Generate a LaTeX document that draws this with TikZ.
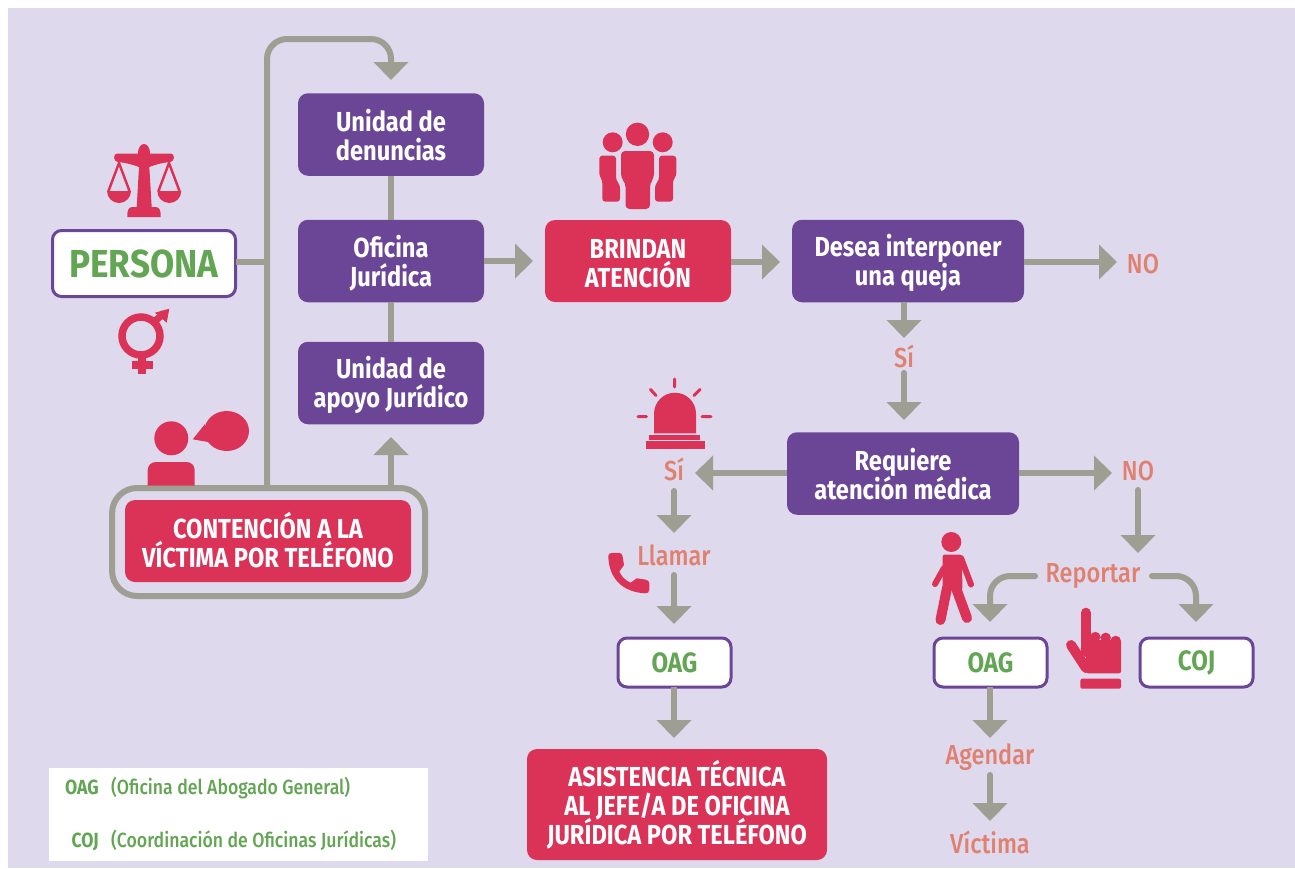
\documentclass[tikz,border=0pt]{standalone}
\usepackage{fontspec}
\setmainfont{Fira Sans}[FakeStretch=0.86]
\newfontfamily\labfont{Fira Sans Medium}[FakeStretch=0.855]
\newfontfamily\legfont{Fira Sans Medium}[FakeStretch=0.862]
\newfontfamily\perfont{Fira Sans}[FakeStretch=0.90]
\usetikzlibrary{arrows.meta}
\definecolor{lav}{HTML}{DED9ED}
\definecolor{pur}{HTML}{6B4696}
\definecolor{rd}{HTML}{DB3358}
\definecolor{gy}{HTML}{9E9E92}
\definecolor{grn}{HTML}{62A552}
\definecolor{sal}{HTML}{E0806F}
\newcommand\tst[1][4]{\rule[-#1pt]{0pt}{28pt}\ignorespaces}
\tikzset{
 every node/.append style={execute at begin node={\lineskiplimit=-50pt\relax}},
 boxbase/.style={inner sep=0pt,outer sep=0pt,rounded corners=10pt,align=center,text=white,font=\bfseries\fontsize{27.5}{29}\selectfont},
 purbox/.style={boxbase,fill=pur,minimum width=#1,minimum height=82.5pt},
 redbox/.style={boxbase,fill=rd,minimum width=#1,minimum height=82pt},
 whitebox/.style={inner sep=0pt,outer sep=0pt,rounded corners=9pt,fill=white,draw=pur,line width=3pt,text=grn,align=center,minimum width=113pt,minimum height=49pt,font=\bfseries\fontsize{28}{29}\selectfont},
 lab/.style={inner sep=0pt,anchor=base,text=sal,font=\labfont\fontsize{27.5}{29}\selectfont},
 conn/.style={draw=gy,line width=6pt},
 arr/.style={conn,-{Triangle[length=18pt,width=34pt]}},
 ico/.style={fill=rd,draw=none},
 icl/.style={draw=rd,line cap=round,line join=round},
 leg/.style={inner sep=0pt,anchor=base west,text=grn,font=\legfont\fontsize{20.5}{22}\selectfont},
 legb/.style={inner sep=0pt,anchor=base east,text=grn,font=\bfseries\fontsize{20.5}{22}\selectfont}
}
\begin{document}
\begin{tikzpicture}[x=1pt,y=-1pt]
\useasboundingbox (0,0) rectangle (1295,868);
\fill[lav] (8,8) rectangle (1295,868);
\fill[white] (49,768) rectangle (428,861);
% nodes
\node[whitebox,minimum width=183pt,minimum height=66pt,font=\perfont\bfseries\fontsize{39}{40}\selectfont] (per) at (144,263.5) {PERSONA};
\node[purbox=186pt] (den) at (391,134.5) {\tst[3] Unidad de\\denuncias\tst[3]};
\node[purbox=186pt] (ofi) at (391,261) {\tst[2] Oficina\\Jurídica\tst[2]};
\node[purbox=186pt] (apo) at (391,383) {\tst[1] Unidad de\\apoyo Jurídico\tst[1]};
\node[redbox=186pt] (bri) at (638,261) {\tst[2] BRINDAN\\ATENCIÓN\tst[2]};
\node[purbox=232pt] (des) at (908,261) {\tst[2] Desea interponer\\una queja\tst[2]};
\node[purbox=232pt] (req) at (903,473.5) {\tst[3] Requiere\\atención médica\tst[3]};
\node[inner sep=0pt,outer sep=0pt,rounded corners=25pt,draw=gy,line width=6pt,minimum width=313pt,minimum height=108pt] (cont) at (268.6,542) {};
\node[redbox=286pt] (conr) at (268,541) {\tst[3] CONTENCIÓN A LA\\VÍCTIMA POR TELÉFONO\tst[3]};
\node[whitebox] (oag1) at (674.5,662.5) {OAG};
\node[whitebox] (oag2) at (990.5,662.5) {OAG};
\node[whitebox] (coj) at (1196.5,662.5) {COJ};
\node[redbox=300pt,minimum height=111pt] (asi) at (677,804.5) {\tst[4.5] ASISTENCIA TÉCNICA\\AL JEFE/A DE OFICINA\\JURÍDICA POR TELÉFONO\tst[4.5]};
% labels
\node[lab] (no1) at (1143,273) {NO};
\node[lab] (si1) at (904,367) {Sí};
\node[lab] (si2) at (674,480) {Sí};
\node[lab] (no2) at (1138,480) {NO};
\node[lab] (lla) at (674,565) {Llamar};
\node[lab] (rep) at (1093,582) {Reportar};
\node[lab] (age) at (990,764) {Agendar};
\node[lab] (vic) at (990,853) {Víctima};
% legend
\node[legb] (l1) at (99,794) {OAG};
\node[leg] (l2) at (111,794) {(Oficina del Abogado General)};
\node[legb] (l3) at (99,847) {COJ};
\node[leg] (l4) at (111,847) {(Coordinación de Oficinas Jurídicas)};
% connector ends
\coordinate (spB) at (267,488);
\coordinate (spP) at (267,262);
\coordinate (spT) at (267,39);
\coordinate (topT) at (391,80);
\coordinate (apB) at (391,488);
\coordinate (apT) at (391,437);
\coordinate (t1) at (533,261);
\coordinate (t2) at (780,262);
\coordinate (t3) at (1117,262);
\coordinate (t4) at (904,338);
\coordinate (s5) at (904,373);
\coordinate (t5) at (904,420);
\coordinate (t6) at (695,473);
\coordinate (t7) at (1112,473);
\coordinate (s8) at (674,491);
\coordinate (t8) at (674,533);
\coordinate (s9) at (674,575);
\coordinate (t9) at (674,624);
\coordinate (t10) at (674,738);
\coordinate (s11) at (1138,490);
\coordinate (t11) at (1138,553);
\coordinate (s12) at (1035,576);
\coordinate (t12) at (990,622);
\coordinate (s13) at (1152,576);
\coordinate (t13) at (1196,622);
\coordinate (t14) at (990,738);
\coordinate (s15) at (990,775);
\coordinate (t15) at (990,821);
% connectors
\draw[conn] (per.east |- spP) -- (spP);
\draw[arr,rounded corners=20pt] (spB) -- (spT) -- (topT |- spT) -- (topT);
\draw[conn] (den.south) -- (ofi.north);
\draw[conn] (ofi.south) -- (apo.north);
\draw[arr] (apB) -- (apT);
\draw[arr] (ofi.east) -- (t1);
\draw[arr] (bri.east |- t2) -- (t2);
\draw[arr] (des.east |- t3) -- (t3);
\draw[arr] (des.south -| t4) -- (t4);
\draw[arr,line cap=round] (s5) -- (t5);
\draw[arr] (req.west |- t6) -- (t6);
\draw[arr] (req.east |- t7) -- (t7);
\draw[arr,line cap=round] (s8) -- (t8);
\draw[arr,line cap=round] (s9) -- (t9);
\draw[arr] (oag1.south -| t10) -- (t10);
\draw[arr,line cap=round] (s11) -- (t11);
\draw[arr,line cap=round,rounded corners=20pt] (s12) -- (t12 |- s12) -- (t12);
\draw[arr,line cap=round,rounded corners=20pt] (s13) -- (t13 |- s13) -- (t13);
\draw[arr] (oag2.south -| t14) -- (t14);
\draw[arr,line cap=round] (s15) -- (t15);
% scales icon
\fill[ico] (144,153) ellipse (6 and 9);
\fill[ico] (117,153.5) -- (171,153.5) .. controls (175,153.5) and (175,162) .. (170,162) .. controls (160,163) and (155,165) .. (149.3,167) -- (151.7,207) -- (156,207) .. controls (160,207) and (161,212) .. (160.7,217) -- (127.3,217) .. controls (127,212) and (128,207) .. (132,207) -- (136.7,207) -- (139,167) .. controls (133,165) and (128,163) .. (118,162) .. controls (113,162) and (113,153.5) .. (117,153.5) -- cycle;
\draw[icl,line width=2.5pt,line join=miter] (108.5,191) -- (119,163) -- (129.5,191);
\draw[icl,line width=2.5pt,line join=miter] (158.5,191) -- (169,163) -- (179.5,191);
\fill[ico] (107,191) arc (180:0:12) -- cycle;
\fill[ico] (157.3,191) arc (180:0:12) -- cycle;
% gender icon
\draw[rd,line width=7.5pt] (141,336) circle (19);
\fill[ico] (138.3,354) rectangle (146,374);
\fill[ico] (132,361) rectangle (152.7,369.3);
\draw[rd,line width=7pt] (153,323) -- (164,313);
\fill[ico] (169.3,308.7) -- (155,312.7) -- (166.7,322.7) -- cycle;
% operator icon
\fill[ico] (171.3,438.3) circle (17);
\fill[ico] (147.7,485.5) -- (147.7,470) arc (180:270:8) -- (186.7,462) arc (-90:0:8) -- (194.7,485.5) -- cycle;
\fill[ico] (226.7,431) ellipse (22.3 and 20);
\fill[ico] (192.7,439.3) -- (205,424) -- (208,442) -- cycle;
% group icon
\fill[ico] (637.5,134.3) circle (11.7);
\fill[ico] (612.7,142.3) circle (10);
\fill[ico] (662.7,142.3) circle (10);
\fill[ico,rounded corners=4pt] (621,151) -- (654,151) -- (654,178) -- (650,183) -- (650,209) -- (625.5,209) -- (625.5,183) -- (621,178) -- cycle;
\fill[ico,rounded corners=3pt] (599.3,155.7) -- (616,155.7) -- (616,180) -- (620,185) -- (620,201.7) -- (602.3,201.7) -- (602.3,180) -- (599.3,176) -- cycle;
\fill[ico,rounded corners=3pt] (676.3,155.7) -- (659,155.7) -- (659,180) -- (655,185) -- (655,201.7) -- (673,201.7) -- (673,180) -- (676.3,176) -- cycle;
% siren icon
\fill[ico] (654,433.3) -- (654,413.7) arc (180:360:21) -- (696,433.3) -- cycle;
\fill[ico] (649,435) rectangle (700.3,440);
\fill[ico] (645.7,441.3) rectangle (704.7,449);
\draw[icl,line width=3pt] (674.7,379) -- (674.7,387) (650.5,389.5) -- (656,395.5) (700,389.5) -- (694,395.5) (638,416.7) -- (646.5,416.7) (702,416.7) -- (711,416.7);
% phone icon
\fill[ico] (608.3,556.7) .. controls (608.5,553.5) and (610,553) .. (612,553) -- (619,552.8) .. controls (621,552.8) and (622,554) .. (622.5,556) -- (624,565) -- (619.3,571.7) .. controls (621.5,576) and (625,580.5) .. (630.7,582.7) -- (636.7,578.3) -- (645,579.5) .. controls (648,580) and (649,581) .. (649.3,583) -- (649.3,590) .. controls (649.3,592.5) and (647.5,593.3) .. (645,593.3) .. controls (622,592) and (609,578) .. (608.3,556.7) -- cycle;
% walking icon
\fill[ico] (951.3,542) circle (10);
\fill[ico,rounded corners=2pt] (942.7,554.5) -- (961.7,554.5) -- (962.5,590) -- (942.7,590) -- cycle;
\draw[icl,line width=6pt] (944,568) -- (935,584);
\draw[icl,line width=6pt] (961,558) -- (971,584.5);
\draw[icl,line width=10pt] (947,588) -- (940.5,620);
\draw[icl,line width=10pt] (956,588) -- (967,618);
% hand icon
\draw[icl,line width=10pt] (1085.7,612.7) -- (1085.7,652);
\draw[icl,line width=10pt] (1071,645) -- (1086,668);
\fill[ico] (1095.3,637) circle (5.2) (1105.7,637.8) circle (5.2) (1115.7,641) circle (5.3);
\fill[ico,rounded corners=2pt] (1086,673.3) -- (1121,673.3) -- (1121,640) -- (1086,640) -- cycle;
\fill[ico,rounded corners=2pt] (1080.3,678.7) rectangle (1121,688.7);
\end{tikzpicture}
\end{document}
